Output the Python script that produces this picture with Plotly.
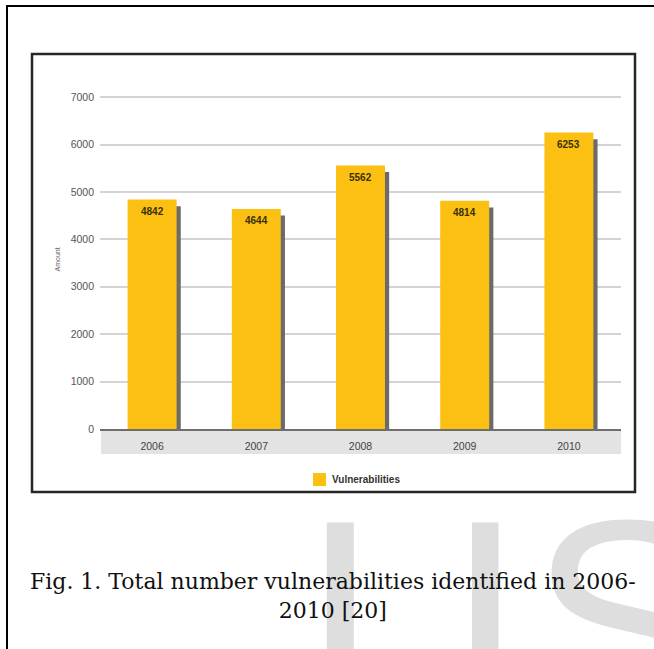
import plotly.graph_objects as go

years = ["2006", "2007", "2008", "2009", "2010"]
vulnerabilities = [4842, 4644, 5562, 4814, 6253]
y_ticks = [0, 1000, 2000, 3000, 4000, 5000, 6000, 7000]
series_name = "Vulnerabilities"
caption = "Fig. 1. Total number vulnerabilities identified in 2006-<br>2010 [20]"
watermark_letters = ["I", "J", "S"]

W, H = 654, 649
ML, MR, MT, MB = 100, 33, 83, 220
PW, PH = W - ML - MR, H - MT - MB

def px(x):
    return (x - ML) / PW

def py(y):
    return (H - MB - y) / PH

BAR = "#FCC012"
fig = go.Figure()
# drop shadow
fig.add_trace(go.Bar(x=years, y=vulnerabilities, base=-140, width=0.47, offset=-0.195,
                     marker=dict(color="#6b6b6b", line=dict(width=0)),
                     showlegend=False, hoverinfo="skip"))
fig.add_trace(go.Bar(x=years, y=vulnerabilities, width=0.47, offset=-0.235,
                     marker=dict(color=BAR, line=dict(width=0)),
                     name=series_name, showlegend=False))

annotations = []
for i, v in enumerate(vulnerabilities):
    annotations.append(dict(x=i, y=v, xref="x", yref="y", text=f"<b>{v}</b>", showarrow=False,
                            yshift=-12, font=dict(family="Liberation Sans", size=10, color="#3a3008")))

# watermark letters, clipped boxes
WM_FONT = dict(family="Liberation Sans", size=290, color="#dedede")
annotations.append(dict(x=px(298), y=py(511), xref="paper", yref="paper", xanchor="left", yanchor="top",
                        text=watermark_letters[0], showarrow=False, height=216, valign="middle", font=WM_FONT))
annotations.append(dict(x=px(522), y=py(511), xref="paper", yref="paper", xanchor="right", yanchor="top",
                        text=watermark_letters[1], showarrow=False, height=216, width=48, align="right",
                        valign="middle", font=WM_FONT))
annotations.append(dict(x=px(527), y=py(511), xref="paper", yref="paper", xanchor="left", yanchor="top",
                        text=watermark_letters[2], showarrow=False, height=216, valign="middle", font=WM_FONT))
# caption
annotations.append(dict(x=px(333), y=py(596), xref="paper", yref="paper", xanchor="center", yanchor="middle",
                        text=caption, showarrow=False, align="center",
                        font=dict(family="DejaVu Serif", size=22, color="#111111")))
# y title
annotations.append(dict(x=px(51), y=py(260), xref="paper", yref="paper", textangle=-90,
                        text="Amount", showarrow=False,
                        font=dict(family="Liberation Sans", size=7, color="#666666")))
# legend text
annotations.append(dict(x=px(330), y=py(479), xref="paper", yref="paper", xanchor="left", yanchor="middle",
                        text="<b>" + series_name + "</b>", showarrow=False,
                        font=dict(family="Liberation Sans", size=10, color="#333333")))

shapes = [
    dict(type="rect", xref="paper", yref="paper", x0=px(101), x1=px(621), y0=py(429), y1=py(454),
         fillcolor="#e3e3e3", line=dict(width=0), layer="below"),
    dict(type="rect", xref="paper", yref="paper", x0=px(32), x1=px(635), y0=py(54), y1=py(492),
         line=dict(color="#262626", width=2.5)),
    dict(type="line", xref="paper", yref="paper", x0=px(6), x1=px(660), y0=py(6), y1=py(6),
         line=dict(color="#000000", width=2)),
    dict(type="line", xref="paper", yref="paper", x0=px(7), x1=px(7), y0=py(5), y1=py(660),
         line=dict(color="#000000", width=2)),
    dict(type="rect", xref="paper", yref="paper", x0=px(313), x1=px(326), y0=py(473), y1=py(486),
         fillcolor=BAR, line=dict(width=0)),
]

fig.update_layout(
    width=W, height=H,
    margin=dict(l=ML, r=MR, t=MT, b=MB, pad=0),
    paper_bgcolor="white", plot_bgcolor="white",
    barmode="overlay", bargap=0.5,
    showlegend=False,
    annotations=annotations, shapes=shapes,
    xaxis=dict(type="category", range=[-0.5, 4.5], showgrid=False, zeroline=False,
               showline=True, linecolor="#6e6e6e", linewidth=2, ticks="", ticklabelstandoff=6,
               tickfont=dict(family="Liberation Sans", size=10.5, color="#444444"), fixedrange=True),
    yaxis=dict(range=[0, 7300], tickvals=y_ticks, showgrid=True, gridcolor="#d4d4d4", gridwidth=1.5,
               zeroline=False, showline=False, ticks="", ticklabelstandoff=5,
               tickfont=dict(family="Liberation Sans", size=10.5, color="#555555"), fixedrange=True),
)

fig.write_html("out.html")
